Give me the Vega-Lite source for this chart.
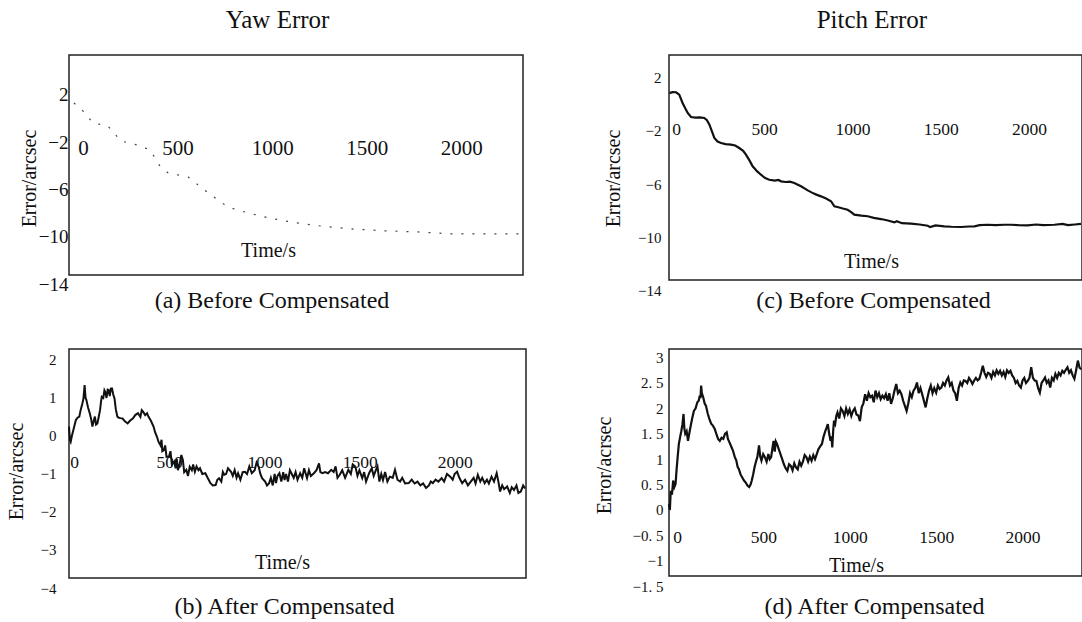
{
  "$schema": "https://vega.github.io/schema/vega-lite/v6.json",
  "background": "white",
  "padding": {"left": 5, "top": 8, "right": 0, "bottom": 0},
  "bounds": "full",
  "spacing": 63,
  "datasets": {
    "yawBefore": [
      {"t": 26, "v": 1.31}, {"t": 74, "v": 0.63}, {"t": 127, "v": -0.38}, {"t": 206, "v": -0.64}, {"t": 275, "v": -1.91},
      {"t": 381, "v": -2.33}, {"t": 430, "v": -2.7}, {"t": 480, "v": -4.0}, {"t": 524, "v": -4.61}, {"t": 630, "v": -4.95}, {"t": 735, "v": -6.29},
      {"t": 841, "v": -7.5}, {"t": 947, "v": -7.99}, {"t": 1053, "v": -8.4}, {"t": 1190, "v": -8.8}, {"t": 1333, "v": -9.1},
      {"t": 1492, "v": -9.34}, {"t": 1667, "v": -9.5}, {"t": 1847, "v": -9.6}, {"t": 2021, "v": -9.76}, {"t": 2196, "v": -9.76},
      {"t": 2381, "v": -9.76}
    ],
    "pitchBefore": [
      {"t": 2, "v": 0.85}, {"t": 20, "v": 0.92}, {"t": 40, "v": 0.91}, {"t": 58, "v": 0.73}, {"t": 77, "v": 0.1},
      {"t": 92, "v": -0.3}, {"t": 106, "v": -0.65}, {"t": 125, "v": -0.95}, {"t": 150, "v": -1.0}, {"t": 175, "v": -0.98},
      {"t": 200, "v": -1.03}, {"t": 215, "v": -1.2}, {"t": 229, "v": -1.53}, {"t": 257, "v": -2.53}, {"t": 275, "v": -2.8},
      {"t": 295, "v": -2.91}, {"t": 320, "v": -3.0}, {"t": 351, "v": -3.04}, {"t": 375, "v": -3.1}, {"t": 398, "v": -3.29},
      {"t": 420, "v": -3.5}, {"t": 436, "v": -3.79}, {"t": 455, "v": -4.2}, {"t": 474, "v": -4.67}, {"t": 500, "v": -5.05},
      {"t": 521, "v": -5.3}, {"t": 545, "v": -5.55}, {"t": 568, "v": -5.68}, {"t": 600, "v": -5.75}, {"t": 620, "v": -5.7},
      {"t": 635, "v": -5.8}, {"t": 660, "v": -5.85}, {"t": 685, "v": -5.82}, {"t": 710, "v": -5.92}, {"t": 730, "v": -6.05},
      {"t": 748, "v": -6.17}, {"t": 770, "v": -6.35}, {"t": 786, "v": -6.48}, {"t": 810, "v": -6.65}, {"t": 835, "v": -6.8},
      {"t": 861, "v": -6.93}, {"t": 890, "v": -7.1}, {"t": 918, "v": -7.3}, {"t": 937, "v": -7.68}, {"t": 960, "v": -7.75},
      {"t": 985, "v": -7.85}, {"t": 1012, "v": -7.94}, {"t": 1030, "v": -8.1}, {"t": 1050, "v": -8.31}, {"t": 1090, "v": -8.38},
      {"t": 1126, "v": -8.43}, {"t": 1160, "v": -8.55}, {"t": 1201, "v": -8.64}, {"t": 1240, "v": -8.75}, {"t": 1277, "v": -8.89},
      {"t": 1290, "v": -8.8}, {"t": 1320, "v": -8.95}, {"t": 1371, "v": -8.99}, {"t": 1420, "v": -9.05}, {"t": 1466, "v": -9.14},
      {"t": 1480, "v": -9.25}, {"t": 1510, "v": -9.12}, {"t": 1560, "v": -9.19}, {"t": 1600, "v": -9.22}, {"t": 1654, "v": -9.24},
      {"t": 1700, "v": -9.2}, {"t": 1730, "v": -9.19}, {"t": 1760, "v": -9.1}, {"t": 1805, "v": -9.07}, {"t": 1850, "v": -9.1},
      {"t": 1900, "v": -9.07}, {"t": 1938, "v": -9.07}, {"t": 1980, "v": -9.1}, {"t": 2032, "v": -9.11}, {"t": 2080, "v": -9.05},
      {"t": 2120, "v": -9.1}, {"t": 2183, "v": -9.07}, {"t": 2230, "v": -9.0}, {"t": 2260, "v": -9.1}, {"t": 2300, "v": -9.05},
      {"t": 2334, "v": -9.01}
    ],
    "yawAfter": [
      {"t": 0, "v": 0.25}, {"t": 5, "v": -0.1}, {"t": 9, "v": -0.15}, {"t": 15, "v": 0.0}, {"t": 25, "v": 0.2}, {"t": 36, "v": 0.42},
      {"t": 45, "v": 0.48}, {"t": 54, "v": 0.51}, {"t": 62, "v": 0.7}, {"t": 70, "v": 0.85}, {"t": 76, "v": 0.99}, {"t": 82, "v": 1.34},
      {"t": 87, "v": 1.0}, {"t": 91, "v": 0.95}, {"t": 100, "v": 0.75}, {"t": 109, "v": 0.6}, {"t": 116, "v": 0.45}, {"t": 123, "v": 0.25},
      {"t": 130, "v": 0.4}, {"t": 136, "v": 0.51}, {"t": 142, "v": 0.3}, {"t": 149, "v": 0.33}, {"t": 156, "v": 0.5}, {"t": 163, "v": 0.68},
      {"t": 168, "v": 0.9}, {"t": 172, "v": 1.03}, {"t": 180, "v": 1.0}, {"t": 186, "v": 1.2}, {"t": 190, "v": 1.16}, {"t": 197, "v": 1.0},
      {"t": 203, "v": 1.22}, {"t": 208, "v": 1.21}, {"t": 214, "v": 1.05}, {"t": 220, "v": 1.25}, {"t": 226, "v": 1.25}, {"t": 232, "v": 1.1},
      {"t": 239, "v": 0.99}, {"t": 246, "v": 0.7}, {"t": 254, "v": 0.51}, {"t": 262, "v": 0.48}, {"t": 270, "v": 0.47}, {"t": 281, "v": 0.46},
      {"t": 295, "v": 0.38}, {"t": 308, "v": 0.33}, {"t": 320, "v": 0.4}, {"t": 335, "v": 0.46}, {"t": 348, "v": 0.55}, {"t": 362, "v": 0.6},
      {"t": 375, "v": 0.5}, {"t": 382, "v": 0.68}, {"t": 389, "v": 0.64}, {"t": 400, "v": 0.55}, {"t": 410, "v": 0.6}, {"t": 417, "v": 0.51},
      {"t": 430, "v": 0.4}, {"t": 444, "v": 0.25}, {"t": 452, "v": 0.1}, {"t": 462, "v": -0.02}, {"t": 470, "v": -0.15}, {"t": 480, "v": -0.24},
      {"t": 486, "v": -0.1}, {"t": 490, "v": -0.4}, {"t": 498, "v": -0.37}, {"t": 505, "v": -0.25}, {"t": 512, "v": -0.55}, {"t": 525, "v": -0.54},
      {"t": 533, "v": -0.4}, {"t": 540, "v": -0.75}, {"t": 553, "v": -0.67}, {"t": 560, "v": -0.85}, {"t": 566, "v": -0.6}, {"t": 572, "v": -0.9},
      {"t": 580, "v": -0.76}, {"t": 590, "v": -0.5}, {"t": 598, "v": -0.63}, {"t": 605, "v": -0.95}, {"t": 616, "v": -0.89}, {"t": 625, "v": -1.05},
      {"t": 634, "v": -0.81}, {"t": 645, "v": -0.9}, {"t": 652, "v": -0.75}, {"t": 661, "v": -0.94}, {"t": 670, "v": -0.8}, {"t": 680, "v": -0.9},
      {"t": 688, "v": -0.85}, {"t": 700, "v": -1.0}, {"t": 716, "v": -0.98}, {"t": 728, "v": -1.1}, {"t": 743, "v": -1.24}, {"t": 755, "v": -1.3},
      {"t": 770, "v": -1.29}, {"t": 779, "v": -1.15}, {"t": 788, "v": -1.11}, {"t": 800, "v": -1.2}, {"t": 808, "v": -0.95}, {"t": 815, "v": -1.02},
      {"t": 825, "v": -1.0}, {"t": 835, "v": -0.85}, {"t": 851, "v": -0.94}, {"t": 860, "v": -1.05}, {"t": 870, "v": -0.9}, {"t": 880, "v": -1.1},
      {"t": 888, "v": -0.98}, {"t": 900, "v": -1.15}, {"t": 912, "v": -0.95}, {"t": 924, "v": -0.94}, {"t": 935, "v": -1.0}, {"t": 947, "v": -0.8},
      {"t": 960, "v": -0.98}, {"t": 975, "v": -0.9}, {"t": 985, "v": -0.7}, {"t": 996, "v": -0.81}, {"t": 1005, "v": -1.0}, {"t": 1014, "v": -1.11},
      {"t": 1030, "v": -1.2}, {"t": 1040, "v": -1.3}, {"t": 1051, "v": -1.24}, {"t": 1060, "v": -1.1}, {"t": 1070, "v": -1.3}, {"t": 1080, "v": -1.0},
      {"t": 1087, "v": -1.24}, {"t": 1095, "v": -1.05}, {"t": 1105, "v": -0.98}, {"t": 1115, "v": -1.2}, {"t": 1125, "v": -0.95}, {"t": 1132, "v": -1.16},
      {"t": 1140, "v": -1.0}, {"t": 1150, "v": -1.2}, {"t": 1160, "v": -0.9}, {"t": 1168, "v": -0.98}, {"t": 1180, "v": -1.1}, {"t": 1190, "v": -0.95},
      {"t": 1200, "v": -1.15}, {"t": 1214, "v": -0.98}, {"t": 1225, "v": -1.1}, {"t": 1235, "v": -0.85}, {"t": 1250, "v": -1.11}, {"t": 1260, "v": -0.9},
      {"t": 1270, "v": -1.05}, {"t": 1286, "v": -0.98}, {"t": 1300, "v": -0.9}, {"t": 1313, "v": -0.72}, {"t": 1320, "v": -0.95}, {"t": 1331, "v": -0.98},
      {"t": 1345, "v": -0.95}, {"t": 1360, "v": -0.98}, {"t": 1377, "v": -0.89}, {"t": 1390, "v": -0.95}, {"t": 1400, "v": -0.8}, {"t": 1410, "v": -1.1},
      {"t": 1422, "v": -1.02}, {"t": 1435, "v": -0.9}, {"t": 1450, "v": -1.1}, {"t": 1467, "v": -0.89}, {"t": 1480, "v": -1.0}, {"t": 1490, "v": -0.75},
      {"t": 1504, "v": -0.81}, {"t": 1515, "v": -1.05}, {"t": 1525, "v": -0.9}, {"t": 1540, "v": -1.11}, {"t": 1550, "v": -0.95}, {"t": 1560, "v": -1.2},
      {"t": 1576, "v": -0.98}, {"t": 1590, "v": -0.85}, {"t": 1600, "v": -1.05}, {"t": 1612, "v": -0.89}, {"t": 1620, "v": -0.8}, {"t": 1630, "v": -1.2},
      {"t": 1640, "v": -1.0}, {"t": 1649, "v": -1.16}, {"t": 1660, "v": -0.95}, {"t": 1672, "v": -1.2}, {"t": 1685, "v": -1.07}, {"t": 1700, "v": -1.1},
      {"t": 1712, "v": -0.89}, {"t": 1725, "v": -1.15}, {"t": 1739, "v": -1.2}, {"t": 1750, "v": -1.1}, {"t": 1765, "v": -1.25}, {"t": 1784, "v": -1.24},
      {"t": 1800, "v": -1.15}, {"t": 1815, "v": -1.25}, {"t": 1830, "v": -1.2}, {"t": 1845, "v": -1.3}, {"t": 1860, "v": -1.25}, {"t": 1875, "v": -1.37},
      {"t": 1890, "v": -1.3}, {"t": 1900, "v": -1.2}, {"t": 1911, "v": -1.24}, {"t": 1925, "v": -1.15}, {"t": 1940, "v": -1.2}, {"t": 1957, "v": -1.11},
      {"t": 1970, "v": -1.2}, {"t": 1985, "v": -1.0}, {"t": 2002, "v": -1.07}, {"t": 2015, "v": -1.15}, {"t": 2025, "v": -1.0}, {"t": 2038, "v": -0.94},
      {"t": 2050, "v": -1.1}, {"t": 2065, "v": -1.24}, {"t": 2080, "v": -1.15}, {"t": 2095, "v": -1.3}, {"t": 2110, "v": -1.2}, {"t": 2125, "v": -1.1},
      {"t": 2135, "v": -1.25}, {"t": 2147, "v": -1.02}, {"t": 2160, "v": -1.2}, {"t": 2170, "v": -1.1}, {"t": 2183, "v": -1.24}, {"t": 2195, "v": -1.15},
      {"t": 2205, "v": -1.25}, {"t": 2219, "v": -1.07}, {"t": 2232, "v": -1.2}, {"t": 2246, "v": -0.98}, {"t": 2255, "v": -1.2}, {"t": 2264, "v": -1.46},
      {"t": 2275, "v": -1.3}, {"t": 2285, "v": -1.4}, {"t": 2301, "v": -1.33}, {"t": 2315, "v": -1.5}, {"t": 2325, "v": -1.35}, {"t": 2337, "v": -1.42},
      {"t": 2350, "v": -1.3}, {"t": 2360, "v": -1.5}, {"t": 2373, "v": -1.46}, {"t": 2385, "v": -1.3}, {"t": 2395, "v": -1.38}
    ],
    "pitchAfter": [
      {"t": 0, "v": 0.12}, {"t": 5, "v": 0.0}, {"t": 10, "v": 0.38}, {"t": 17, "v": 0.3}, {"t": 24, "v": 0.58}, {"t": 31, "v": 0.45},
      {"t": 38, "v": 0.51}, {"t": 44, "v": 0.8}, {"t": 50, "v": 1.04}, {"t": 57, "v": 1.3}, {"t": 64, "v": 1.43}, {"t": 71, "v": 1.55},
      {"t": 78, "v": 1.69}, {"t": 84, "v": 1.89}, {"t": 89, "v": 1.6}, {"t": 94, "v": 1.5}, {"t": 102, "v": 1.55}, {"t": 110, "v": 1.36},
      {"t": 117, "v": 1.5}, {"t": 124, "v": 1.63}, {"t": 134, "v": 1.8}, {"t": 144, "v": 1.95}, {"t": 154, "v": 2.0}, {"t": 164, "v": 2.12},
      {"t": 172, "v": 2.15}, {"t": 178, "v": 2.25}, {"t": 182, "v": 2.2}, {"t": 186, "v": 2.45}, {"t": 190, "v": 2.3}, {"t": 198, "v": 2.22},
      {"t": 206, "v": 2.1}, {"t": 214, "v": 2.05}, {"t": 224, "v": 1.9}, {"t": 234, "v": 1.79}, {"t": 244, "v": 1.7}, {"t": 254, "v": 1.66},
      {"t": 264, "v": 1.6}, {"t": 274, "v": 1.5}, {"t": 284, "v": 1.4}, {"t": 294, "v": 1.36}, {"t": 304, "v": 1.42}, {"t": 314, "v": 1.4},
      {"t": 324, "v": 1.5}, {"t": 334, "v": 1.53}, {"t": 341, "v": 1.4}, {"t": 350, "v": 1.33}, {"t": 360, "v": 1.25}, {"t": 370, "v": 1.17},
      {"t": 380, "v": 1.05}, {"t": 390, "v": 0.97}, {"t": 397, "v": 0.85}, {"t": 404, "v": 0.81}, {"t": 414, "v": 0.7}, {"t": 424, "v": 0.64},
      {"t": 434, "v": 0.58}, {"t": 444, "v": 0.54}, {"t": 454, "v": 0.48}, {"t": 464, "v": 0.45}, {"t": 472, "v": 0.5}, {"t": 479, "v": 0.58},
      {"t": 487, "v": 0.7}, {"t": 495, "v": 0.84}, {"t": 503, "v": 0.95}, {"t": 511, "v": 1.04}, {"t": 516, "v": 1.15}, {"t": 521, "v": 1.27},
      {"t": 528, "v": 1.05}, {"t": 535, "v": 0.97}, {"t": 545, "v": 1.1}, {"t": 555, "v": 1.04}, {"t": 565, "v": 0.95}, {"t": 575, "v": 1.1},
      {"t": 583, "v": 1.0}, {"t": 591, "v": 1.04}, {"t": 598, "v": 1.2}, {"t": 605, "v": 1.36}, {"t": 612, "v": 1.15}, {"t": 618, "v": 1.35},
      {"t": 625, "v": 1.3}, {"t": 635, "v": 1.2}, {"t": 645, "v": 1.1}, {"t": 655, "v": 1.0}, {"t": 665, "v": 0.9}, {"t": 675, "v": 0.82},
      {"t": 685, "v": 0.77}, {"t": 695, "v": 0.9}, {"t": 705, "v": 0.87}, {"t": 715, "v": 0.78}, {"t": 725, "v": 0.92}, {"t": 735, "v": 0.84},
      {"t": 745, "v": 0.8}, {"t": 755, "v": 0.95}, {"t": 765, "v": 0.87}, {"t": 775, "v": 0.95}, {"t": 785, "v": 1.08}, {"t": 795, "v": 1.04},
      {"t": 805, "v": 0.95}, {"t": 815, "v": 1.05}, {"t": 825, "v": 0.97}, {"t": 835, "v": 1.08}, {"t": 845, "v": 1.0}, {"t": 855, "v": 1.1},
      {"t": 865, "v": 1.2}, {"t": 875, "v": 1.25}, {"t": 885, "v": 1.3}, {"t": 895, "v": 1.45}, {"t": 905, "v": 1.56}, {"t": 912, "v": 1.62},
      {"t": 919, "v": 1.69}, {"t": 927, "v": 1.5}, {"t": 935, "v": 1.36}, {"t": 940, "v": 1.45}, {"t": 945, "v": 1.23}, {"t": 950, "v": 1.55},
      {"t": 955, "v": 1.76}, {"t": 962, "v": 1.7}, {"t": 968, "v": 1.85}, {"t": 975, "v": 1.92}, {"t": 985, "v": 1.8}, {"t": 995, "v": 2.0},
      {"t": 1005, "v": 1.95}, {"t": 1015, "v": 1.85}, {"t": 1025, "v": 2.0}, {"t": 1035, "v": 1.89}, {"t": 1045, "v": 1.98}, {"t": 1055, "v": 1.85},
      {"t": 1065, "v": 1.95}, {"t": 1075, "v": 2.0}, {"t": 1085, "v": 1.88}, {"t": 1095, "v": 1.86}, {"t": 1105, "v": 1.75}, {"t": 1115, "v": 2.02},
      {"t": 1125, "v": 2.1}, {"t": 1135, "v": 2.28}, {"t": 1145, "v": 2.15}, {"t": 1155, "v": 2.3}, {"t": 1165, "v": 2.22}, {"t": 1175, "v": 2.25},
      {"t": 1185, "v": 2.12}, {"t": 1195, "v": 2.35}, {"t": 1205, "v": 2.22}, {"t": 1215, "v": 2.3}, {"t": 1225, "v": 2.18}, {"t": 1235, "v": 2.25},
      {"t": 1245, "v": 2.2}, {"t": 1255, "v": 2.28}, {"t": 1265, "v": 2.15}, {"t": 1275, "v": 2.3}, {"t": 1285, "v": 2.09}, {"t": 1295, "v": 2.2},
      {"t": 1305, "v": 2.35}, {"t": 1315, "v": 2.48}, {"t": 1325, "v": 2.3}, {"t": 1335, "v": 2.35}, {"t": 1345, "v": 2.28}, {"t": 1355, "v": 2.15},
      {"t": 1365, "v": 2.05}, {"t": 1375, "v": 1.95}, {"t": 1385, "v": 2.1}, {"t": 1395, "v": 2.3}, {"t": 1405, "v": 2.22}, {"t": 1415, "v": 2.35},
      {"t": 1425, "v": 2.4}, {"t": 1435, "v": 2.51}, {"t": 1445, "v": 2.3}, {"t": 1455, "v": 2.4}, {"t": 1465, "v": 2.28}, {"t": 1475, "v": 2.15},
      {"t": 1485, "v": 2.02}, {"t": 1495, "v": 2.2}, {"t": 1505, "v": 2.35}, {"t": 1515, "v": 2.45}, {"t": 1525, "v": 2.3}, {"t": 1535, "v": 2.4},
      {"t": 1546, "v": 2.31}, {"t": 1556, "v": 2.45}, {"t": 1566, "v": 2.38}, {"t": 1576, "v": 2.41}, {"t": 1586, "v": 2.5}, {"t": 1596, "v": 2.45},
      {"t": 1606, "v": 2.55}, {"t": 1616, "v": 2.61}, {"t": 1626, "v": 2.45}, {"t": 1636, "v": 2.5}, {"t": 1646, "v": 2.35}, {"t": 1656, "v": 2.3},
      {"t": 1666, "v": 2.15}, {"t": 1676, "v": 2.4}, {"t": 1686, "v": 2.51}, {"t": 1696, "v": 2.45}, {"t": 1706, "v": 2.55}, {"t": 1716, "v": 2.54},
      {"t": 1726, "v": 2.5}, {"t": 1736, "v": 2.6}, {"t": 1746, "v": 2.55}, {"t": 1756, "v": 2.48}, {"t": 1766, "v": 2.55}, {"t": 1776, "v": 2.6},
      {"t": 1786, "v": 2.55}, {"t": 1796, "v": 2.58}, {"t": 1806, "v": 2.7}, {"t": 1816, "v": 2.84}, {"t": 1826, "v": 2.7}, {"t": 1836, "v": 2.62},
      {"t": 1846, "v": 2.7}, {"t": 1856, "v": 2.68}, {"t": 1866, "v": 2.6}, {"t": 1876, "v": 2.72}, {"t": 1886, "v": 2.65}, {"t": 1896, "v": 2.75},
      {"t": 1906, "v": 2.68}, {"t": 1916, "v": 2.74}, {"t": 1926, "v": 2.65}, {"t": 1936, "v": 2.72}, {"t": 1946, "v": 2.62}, {"t": 1956, "v": 2.75},
      {"t": 1966, "v": 2.7}, {"t": 1976, "v": 2.74}, {"t": 1986, "v": 2.65}, {"t": 1996, "v": 2.6}, {"t": 2006, "v": 2.5}, {"t": 2016, "v": 2.54},
      {"t": 2026, "v": 2.45}, {"t": 2036, "v": 2.41}, {"t": 2046, "v": 2.55}, {"t": 2056, "v": 2.6}, {"t": 2066, "v": 2.5}, {"t": 2076, "v": 2.54},
      {"t": 2086, "v": 2.6}, {"t": 2096, "v": 2.81}, {"t": 2106, "v": 2.6}, {"t": 2116, "v": 2.55}, {"t": 2126, "v": 2.54}, {"t": 2136, "v": 2.4},
      {"t": 2146, "v": 2.31}, {"t": 2156, "v": 2.5}, {"t": 2166, "v": 2.55}, {"t": 2176, "v": 2.61}, {"t": 2186, "v": 2.5}, {"t": 2196, "v": 2.55},
      {"t": 2206, "v": 2.41}, {"t": 2216, "v": 2.6}, {"t": 2226, "v": 2.55}, {"t": 2236, "v": 2.68}, {"t": 2246, "v": 2.6}, {"t": 2256, "v": 2.7},
      {"t": 2266, "v": 2.65}, {"t": 2276, "v": 2.74}, {"t": 2286, "v": 2.7}, {"t": 2296, "v": 2.76}, {"t": 2306, "v": 2.81}, {"t": 2316, "v": 2.7},
      {"t": 2326, "v": 2.75}, {"t": 2336, "v": 2.65}, {"t": 2346, "v": 2.58}, {"t": 2356, "v": 2.75}, {"t": 2366, "v": 2.94}, {"t": 2376, "v": 2.8},
      {"t": 2386, "v": 2.77}
    ]
  },
  "hconcat": [
    {
      "title": {"text": "Yaw Error", "fontSize": 25, "anchor": "middle", "dx": 10, "offset": 1, "baseline": "alphabetic"},
      "bounds": "flush",
      "spacing": 74,
      "vconcat": [
        {
          "width": 454, "height": 220,
          "data": {"name": "yawBefore"},
          "title": {"text": "(a) Before Compensated", "orient": "bottom", "frame": "group", "anchor": "middle", "dx": -24, "offset": 14, "baseline": "alphabetic", "fontSize": 24},
          "mark": {"type": "line", "color": "#444", "strokeWidth": 1.2, "strokeDash": [2, 9]},
          "encoding": {
            "x": {"field": "t", "type": "quantitative",
              "scale": {"domain": [0, 2400], "nice": false, "zero": false},
              "axis": {"orient": "bottom", "offset": -156.5, "values": [0, 500, 1000, 1500, 2000], "format": "d", "labelFontSize": 21, "labelPadding": 29.5, "labelBaseline": "middle", "labelOffset": 14, "title": "Time/s", "titleFontSize": 20, "titleX": 199, "titleY": 131.5, "titleBaseline": "middle", "titleAlign": "center"}},
            "y": {"field": "v", "type": "quantitative",
              "scale": {"domain": [-14, 5.366], "range": [229, 0], "nice": false, "zero": false},
              "axis": {"values": [2, -2, -6, -10, -14], "format": "d", "labelFontSize": 19, "labelPadding": 1, "labelBaseline": "middle", "title": "Error/arcsec", "titleFontSize": 20, "titleX": -40, "titleY": 123, "titleBaseline": "middle", "titleAlign": "center"}}
          }
        },
        {
          "width": 457, "height": 229,
          "data": {"name": "yawAfter"},
          "title": {"text": "(b) After Compensated", "orient": "bottom", "frame": "group", "anchor": "middle", "dx": -13, "offset": 18, "baseline": "alphabetic", "fontSize": 24},
          "mark": {"type": "line", "color": "#111", "strokeWidth": 2},
          "encoding": {
            "x": {"field": "t", "type": "quantitative",
              "scale": {"domain": [0, 2400], "nice": false, "zero": false},
              "axis": {"orient": "bottom", "offset": -142, "values": [0, 500, 1000, 1500, 2000], "format": "d", "labelFontSize": 17.5, "labelPadding": 26, "labelBaseline": "middle", "labelOffset": 5, "title": "Time/s", "titleFontSize": 20, "titleX": 213, "titleY": 126, "titleBaseline": "middle", "titleAlign": "center"}},
            "y": {"field": "v", "type": "quantitative",
              "scale": {"domain": [-4, 2.289], "range": [239, 0], "nice": false, "zero": false},
              "axis": {"values": [2, 1, 0, -1, -2, -3, -4], "format": "d", "labelFontSize": 15, "labelPadding": 13, "labelBaseline": "middle", "title": "Error/arcsec", "titleFontSize": 20, "titleX": -53, "titleY": 122, "titleBaseline": "middle", "titleAlign": "center"}}
          }
        }
      ]
    },
    {
      "title": {"text": "Pitch Error", "fontSize": 25, "anchor": "middle", "dx": 32, "offset": 1, "baseline": "alphabetic"},
      "bounds": "flush",
      "spacing": 69,
      "vconcat": [
        {
          "width": 413, "height": 225,
          "data": {"name": "pitchBefore"},
          "title": {"text": "(c) Before Compensated", "orient": "bottom", "frame": "group", "anchor": "middle", "dx": -2, "offset": 10, "baseline": "alphabetic", "fontSize": 24},
          "mark": {"type": "line", "color": "#111", "strokeWidth": 2.2},
          "encoding": {
            "x": {"field": "t", "type": "quantitative",
              "scale": {"domain": [0, 2340], "nice": false, "zero": false},
              "axis": {"orient": "bottom", "offset": -175.65, "values": [0, 500, 1000, 1500, 2000], "format": "d", "labelFontSize": 17.5, "labelPadding": 24.7, "labelBaseline": "middle", "labelOffset": 7, "title": "Time/s", "titleFontSize": 20, "titleX": 202, "titleY": 156.7, "titleBaseline": "middle", "titleAlign": "center"}},
            "y": {"field": "v", "type": "quantitative",
              "scale": {"domain": [-14, 3.718], "range": [235.2, 0], "nice": false, "zero": false},
              "axis": {"values": [2, -2, -6, -10, -14], "format": "d", "labelFontSize": 15, "labelPadding": 8, "labelBaseline": "middle", "title": "Error/arcsec", "titleFontSize": 20, "titleX": -56, "titleY": 123, "titleBaseline": "middle", "titleAlign": "center"}}
          }
        },
        {
          "width": 413, "height": 227,
          "data": {"name": "pitchAfter"},
          "title": {"text": "(d) After Compensated", "orient": "bottom", "frame": "group", "anchor": "middle", "dx": -1, "offset": 20, "baseline": "alphabetic", "fontSize": 24},
          "mark": {"type": "line", "color": "#111", "strokeWidth": 2.2},
          "encoding": {
            "x": {"field": "t", "type": "quantitative",
              "scale": {"domain": [0, 2390], "nice": false, "zero": false},
              "axis": {"orient": "bottom", "offset": -66, "values": [0, 500, 1000, 1500, 2000], "format": "d", "labelFontSize": 17.5, "labelPadding": 27, "labelBaseline": "middle", "labelOffset": 8, "title": "Time/s", "titleFontSize": 20, "titleX": 187, "titleY": 55.6, "titleBaseline": "middle", "titleAlign": "center"}},
            "y": {"field": "v", "type": "quantitative",
              "scale": {"domain": [-1.5, 3.169], "range": [237.2, 0], "nice": false, "zero": false},
              "axis": {"values": [3, 2.5, 2, 1.5, 1, 0.5, 0, -0.5, -1, -1.5], "format": "~g", "labelExpr": "replace(datum.label, '.', '. ')", "labelFontSize": 15, "labelPadding": 6, "labelBaseline": "middle", "title": "Error/acrsec", "titleFontSize": 20, "titleX": -65, "titleY": 116, "titleBaseline": "middle", "titleAlign": "center"}}
          }
        }
      ]
    }
  ],
  "config": {
    "view": {"stroke": "#222", "strokeWidth": 1.5},
    "font": "Liberation Serif",
    "axis": {"grid": false, "ticks": false, "domain": false, "labelColor": "#111", "titleColor": "#111", "titleFontWeight": "normal", "labelFont": "Liberation Serif", "titleFont": "Liberation Serif", "labelOverlap": false, "labelFlush": false},
    "title": {"font": "Liberation Serif", "fontWeight": "normal", "color": "#111"}
  }
}
